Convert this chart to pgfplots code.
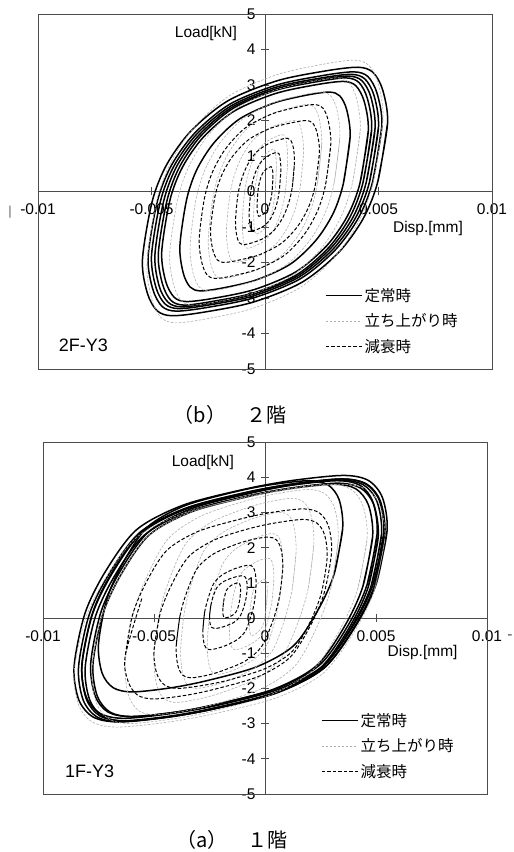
\documentclass[border=0pt]{standalone}
\usepackage{pgfplots}
\pgfplotsset{compat=1.18}
\usepackage{fontspec}
\setmainfont{Liberation Sans}
\newfontfamily\jp{Noto Sans CJK JP}
\pgfplotsset{
 hyst/.style={
  scale only axis,
  xmin=-10,xmax=10,ymin=-5,ymax=5,
  axis lines=middle,
  axis line style={-, black!70, line width=0.8pt},
  xtick={-10,-5,0,5,10}, xticklabels={-0.01,-0.005,0,0.005,0.01},
  ytick={-5,-4,-3,-2,-1,0,1,2,3,4,5}, yticklabels={-5,-4,-3,-2,-1,0,1,2,3,4,5},
  hide obscured x ticks=false, hide obscured y ticks=false,
  tick align=center, major tick length=8pt,
  tick style={black!70, line width=0.8pt},
  ticklabel style={font=\fontsize{15.5}{18}\selectfont},
  xticklabel style={anchor=north, yshift=-5pt},
  yticklabel style={anchor=east, xshift=-2pt},
  legend cell align=left,
  legend style={draw=none, fill=none, font=\jp\fontsize{15.5}{18}\selectfont, row sep=7pt, inner sep=0pt, anchor=north west},
  legend image code/.code={\draw[#1] (0pt,0pt) -- (36pt,0pt);},
  after end axis/.code={\draw[black!70, line width=0.8pt] (rel axis cs:0,0) rectangle (rel axis cs:1,1);},
 },
 steady/.style={black, line width=1.5pt, smooth},
 rise/.style={black!32, line width=0.6pt, dash pattern=on 2.5pt off 1.5pt, smooth},
 decay/.style={black, line width=1pt, dash pattern=on 3.5pt off 2pt, smooth},
}
\begin{document}
\begin{tikzpicture}
\path[use as bounding box] (0pt,0pt) rectangle (514pt,852pt);
% ---------------- top: 2F ----------------
\begin{axis}[hyst, width=454pt, height=355pt, at={(38pt,483pt)}, anchor=south west,
  legend style={at={(0.632,0.234)}}]
% steady-state loops
\addplot[steady] coordinates {(4.97,0.28) (5.40,1.93) (5.18,2.87) (4.75,3.36) (4.10,3.50) (2.70,3.40) (0.54,3.12) (-1.62,2.56) (-3.24,1.72) (-4.32,0.77) (-4.97,-0.28) (-5.40,-1.93) (-5.18,-2.87) (-4.75,-3.36) (-4.10,-3.50) (-2.70,-3.40) (-0.54,-3.12) (1.62,-2.56) (3.24,-1.72) (4.32,-0.77) (4.97,0.28) (5.40,1.93)};
\addlegendentry{定常時}
\addplot[steady, forget plot] coordinates {(4.74,0.27) (5.15,1.85) (4.94,2.76) (4.53,3.24) (3.91,3.37) (2.58,3.27) (0.52,3.00) (-1.55,2.46) (-3.09,1.65) (-4.12,0.74) (-4.74,-0.27) (-5.15,-1.85) (-4.94,-2.76) (-4.53,-3.24) (-3.91,-3.37) (-2.58,-3.27) (-0.52,-3.00) (1.55,-2.46) (3.09,-1.65) (4.12,-0.74) (4.74,0.27) (5.15,1.85)};
\addplot[steady, forget plot] coordinates {(4.60,0.26) (5.00,1.82) (4.80,2.71) (4.40,3.17) (3.80,3.30) (2.50,3.20) (0.50,2.94) (-1.50,2.41) (-3.00,1.62) (-4.00,0.73) (-4.60,-0.26) (-5.00,-1.82) (-4.80,-2.71) (-4.40,-3.17) (-3.80,-3.30) (-2.50,-3.20) (-0.50,-2.94) (1.50,-2.41) (3.00,-1.62) (4.00,-0.73) (4.60,0.26) (5.00,1.82)};
\addplot[steady, forget plot] coordinates {(4.46,0.26) (4.85,1.79) (4.66,2.67) (4.27,3.12) (3.69,3.25) (2.43,3.15) (0.49,2.89) (-1.46,2.37) (-2.91,1.59) (-3.88,0.72) (-4.46,-0.26) (-4.85,-1.79) (-4.66,-2.67) (-4.27,-3.12) (-3.69,-3.25) (-2.43,-3.15) (-0.49,-2.89) (1.46,-2.37) (2.91,-1.59) (3.88,-0.72) (4.46,0.26) (4.85,1.79)};
\addplot[steady, forget plot] coordinates {(4.32,0.26) (4.70,1.76) (4.51,2.62) (4.14,3.07) (3.57,3.20) (2.35,3.10) (0.47,2.85) (-1.41,2.34) (-2.82,1.57) (-3.76,0.70) (-4.32,-0.26) (-4.70,-1.76) (-4.51,-2.62) (-4.14,-3.07) (-3.57,-3.20) (-2.35,-3.10) (-0.47,-2.85) (1.41,-2.34) (2.82,-1.57) (3.76,-0.70) (4.32,0.26) (4.70,1.76)};
\addplot[steady, forget plot] coordinates {(4.19,0.25) (4.55,1.71) (4.37,2.54) (4.00,2.98) (3.46,3.10) (2.28,3.01) (0.46,2.76) (-1.37,2.26) (-2.73,1.52) (-3.64,0.68) (-4.19,-0.25) (-4.55,-1.71) (-4.37,-2.54) (-4.00,-2.98) (-3.46,-3.10) (-2.28,-3.01) (-0.46,-2.76) (1.37,-2.26) (2.73,-1.52) (3.64,-0.68) (4.19,0.25) (4.55,1.71)};
\addplot[steady, forget plot] coordinates {(3.45,0.22) (3.75,1.54) (3.60,2.30) (3.30,2.69) (2.85,2.80) (1.88,2.72) (0.38,2.49) (-1.13,2.04) (-2.25,1.37) (-3.00,0.62) (-3.45,-0.22) (-3.75,-1.54) (-3.60,-2.30) (-3.30,-2.69) (-2.85,-2.80) (-1.88,-2.72) (-0.38,-2.49) (1.13,-2.04) (2.25,-1.37) (3.00,-0.62) (3.45,0.22) (3.75,1.54)};
% rising loops
\addplot[rise] coordinates {(4.78,0.30) (5.20,2.04) (4.99,3.03) (4.58,3.55) (3.95,3.70) (2.60,3.59) (0.52,3.29) (-1.56,2.70) (-3.12,1.81) (-4.16,0.81) (-4.78,-0.30) (-5.20,-2.04) (-4.99,-3.03) (-4.58,-3.55) (-3.95,-3.70) (-2.60,-3.59) (-0.52,-3.29) (1.56,-2.70) (3.12,-1.81) (4.16,-0.81) (4.78,0.30) (5.20,2.04)};
\addlegendentry{立ち上がり時}
\addplot[rise, forget plot] coordinates {(3.86,0.26) (4.20,1.76) (4.03,2.62) (3.70,3.07) (3.19,3.20) (2.10,3.10) (0.42,2.85) (-1.26,2.34) (-2.52,1.57) (-3.36,0.70) (-3.86,-0.26) (-4.20,-1.76) (-4.03,-2.62) (-3.70,-3.07) (-3.19,-3.20) (-2.10,-3.10) (-0.42,-2.85) (1.26,-2.34) (2.52,-1.57) (3.36,-0.70) (3.86,0.26) (4.20,1.76)};
\addplot[rise, forget plot] coordinates {(3.04,0.22) (3.30,1.54) (3.17,2.30) (2.90,2.69) (2.51,2.80) (1.65,2.72) (0.33,2.49) (-0.99,2.04) (-1.98,1.37) (-2.64,0.62) (-3.04,-0.22) (-3.30,-1.54) (-3.17,-2.30) (-2.90,-2.69) (-2.51,-2.80) (-1.65,-2.72) (-0.33,-2.49) (0.99,-2.04) (1.98,-1.37) (2.64,-0.62) (3.04,0.22) (3.30,1.54)};
\addplot[rise, forget plot] coordinates {(2.30,0.20) (2.50,1.35) (2.40,2.01) (2.20,2.35) (1.90,2.45) (1.25,2.38) (0.25,2.18) (-0.75,1.79) (-1.50,1.20) (-2.00,0.54) (-2.30,-0.20) (-2.50,-1.35) (-2.40,-2.01) (-2.20,-2.35) (-1.90,-2.45) (-1.25,-2.38) (-0.25,-2.18) (0.75,-1.79) (1.50,-1.20) (2.00,-0.54) (2.30,0.20) (2.50,1.35)};
\addplot[rise, forget plot] coordinates {(1.56,0.16) (1.70,1.10) (1.63,1.64) (1.50,1.92) (1.29,2.00) (0.85,1.94) (0.17,1.78) (-0.51,1.46) (-1.02,0.98) (-1.36,0.44) (-1.56,-0.16) (-1.70,-1.10) (-1.63,-1.64) (-1.50,-1.92) (-1.29,-2.00) (-0.85,-1.94) (-0.17,-1.78) (0.51,-1.46) (1.02,-0.98) (1.36,-0.44) (1.56,0.16) (1.70,1.10)};
\addplot[rise, forget plot] coordinates {(0.92,0.13) (1.00,0.88) (0.96,1.31) (0.88,1.54) (0.76,1.60) (0.50,1.55) (0.10,1.42) (-0.30,1.17) (-0.60,0.78) (-0.80,0.35) (-0.92,-0.13) (-1.00,-0.88) (-0.96,-1.31) (-0.88,-1.54) (-0.76,-1.60) (-0.50,-1.55) (-0.10,-1.42) (0.30,-1.17) (0.60,-0.78) (0.80,-0.35) (0.92,0.13) (1.00,0.88)};
\addplot[rise, forget plot] coordinates {(0.46,0.10) (0.50,0.66) (0.48,0.98) (0.44,1.15) (0.38,1.20) (0.25,1.16) (0.05,1.07) (-0.15,0.88) (-0.30,0.59) (-0.40,0.26) (-0.46,-0.10) (-0.50,-0.66) (-0.48,-0.98) (-0.44,-1.15) (-0.38,-1.20) (-0.25,-1.16) (-0.05,-1.07) (0.15,-0.88) (0.30,-0.59) (0.40,-0.26) (0.46,0.10) (0.50,0.66)};
% decaying loops
\addplot[decay] coordinates {(2.67,0.20) (2.90,1.35) (2.78,2.01) (2.55,2.35) (2.20,2.45) (1.45,2.38) (0.29,2.18) (-0.87,1.79) (-1.74,1.20) (-2.32,0.54) (-2.67,-0.20) (-2.90,-1.35) (-2.78,-2.01) (-2.55,-2.35) (-2.20,-2.45) (-1.45,-2.38) (-0.29,-2.18) (0.87,-1.79) (1.74,-1.20) (2.32,-0.54) (2.67,0.20) (2.90,1.35)};
\addlegendentry{減衰時}
\addplot[decay, forget plot] coordinates {(2.21,0.16) (2.40,1.10) (2.30,1.64) (2.11,1.92) (1.82,2.00) (1.20,1.94) (0.24,1.78) (-0.72,1.46) (-1.44,0.98) (-1.92,0.44) (-2.21,-0.16) (-2.40,-1.10) (-2.30,-1.64) (-2.11,-1.92) (-1.82,-2.00) (-1.20,-1.94) (-0.24,-1.78) (0.72,-1.46) (1.44,-0.98) (1.92,-0.44) (2.21,0.16) (2.40,1.10)};
\addplot[decay, forget plot] coordinates {(1.20,0.12) (1.30,0.83) (1.25,1.23) (1.14,1.44) (0.99,1.50) (0.65,1.46) (0.13,1.34) (-0.39,1.10) (-0.78,0.74) (-1.04,0.33) (-1.20,-0.12) (-1.30,-0.83) (-1.25,-1.23) (-1.14,-1.44) (-0.99,-1.50) (-0.65,-1.46) (-0.13,-1.34) (0.39,-1.10) (0.78,-0.74) (1.04,-0.33) (1.20,0.12) (1.30,0.83)};
\addplot[decay, forget plot] coordinates {(0.64,0.09) (0.70,0.61) (0.67,0.90) (0.62,1.06) (0.53,1.10) (0.35,1.07) (0.07,0.98) (-0.21,0.80) (-0.42,0.54) (-0.56,0.24) (-0.64,-0.09) (-0.70,-0.61) (-0.67,-0.90) (-0.62,-1.06) (-0.53,-1.10) (-0.35,-1.07) (-0.07,-0.98) (0.21,-0.80) (0.42,-0.54) (0.56,-0.24) (0.64,0.09) (0.70,0.61)};
\addplot[decay, forget plot] coordinates {(0.32,0.06) (0.35,0.39) (0.34,0.57) (0.31,0.67) (0.27,0.70) (0.18,0.68) (0.04,0.62) (-0.11,0.51) (-0.21,0.34) (-0.28,0.15) (-0.32,-0.06) (-0.35,-0.39) (-0.34,-0.57) (-0.31,-0.67) (-0.27,-0.70) (-0.18,-0.68) (-0.04,-0.62) (0.11,-0.51) (0.21,-0.34) (0.28,-0.15) (0.32,0.06) (0.35,0.39)};
\node[font=\fontsize{15.5}{18}\selectfont] at (axis cs:-2.6,4.46) {Load[kN]};
\node[font=\fontsize{15.5}{18}\selectfont] at (axis cs:7.18,-1.03) {Disp.[mm]};
\node[font=\fontsize{18}{21}\selectfont] at (axis cs:-8.0,-4.32) {2F-Y3};
\end{axis}
\node[font=\jp\fontsize{20}{24}\selectfont] at (230pt,437pt) {（b）　２階};
\node[black!60, font=\fontsize{13}{15}\selectfont] at (10pt,640pt) {|};
% ---------------- bottom: 1F ----------------
\begin{axis}[hyst, width=444pt, height=352pt, at={(43pt,58pt)}, anchor=south west,
  legend style={at={(0.626,0.236)}}]
% steady-state loops
\addplot[steady] coordinates {(5.01,0.97) (5.50,2.48) (5.29,3.42) (4.65,3.91) (3.53,4.05) (1.27,3.91) (-0.84,3.67) (-3.67,3.21) (-5.78,2.51) (-7.19,1.32) (-8.11,0.13) (-8.60,-1.38) (-8.39,-2.32) (-7.75,-2.81) (-6.63,-2.95) (-4.37,-2.81) (-2.26,-2.57) (0.57,-2.11) (2.68,-1.41) (4.09,-0.22) (5.01,0.97) (5.50,2.48)};
\addlegendentry{定常時}
\addplot[steady, forget plot] coordinates {(4.92,0.91) (5.40,2.40) (5.19,3.33) (4.57,3.81) (3.47,3.95) (1.26,3.81) (-0.81,3.57) (-3.57,3.12) (-5.64,2.43) (-7.02,1.26) (-7.92,0.09) (-8.40,-1.40) (-8.19,-2.33) (-7.57,-2.81) (-6.47,-2.95) (-4.26,-2.81) (-2.19,-2.57) (0.57,-2.12) (2.64,-1.43) (4.02,-0.26) (4.92,0.91) (5.40,2.40)};
\addplot[steady, forget plot] coordinates {(4.87,0.96) (5.35,2.42) (5.15,3.34) (4.53,3.81) (3.45,3.95) (1.27,3.81) (-0.77,3.58) (-3.49,3.13) (-5.53,2.45) (-6.89,1.30) (-7.77,0.14) (-8.25,-1.32) (-8.05,-2.24) (-7.43,-2.71) (-6.35,-2.85) (-4.17,-2.71) (-2.13,-2.48) (0.59,-2.03) (2.63,-1.35) (3.99,-0.20) (4.87,0.96) (5.35,2.42)};
\addplot[steady, forget plot] coordinates {(4.78,0.91) (5.25,2.38) (5.05,3.30) (4.44,3.78) (3.36,3.92) (1.20,3.78) (-0.82,3.54) (-3.53,3.10) (-5.55,2.42) (-6.90,1.25) (-7.78,0.09) (-8.25,-1.38) (-8.05,-2.30) (-7.44,-2.78) (-6.36,-2.92) (-4.20,-2.78) (-2.18,-2.54) (0.53,-2.10) (2.55,-1.42) (3.90,-0.25) (4.78,0.91) (5.25,2.38)};
\addplot[steady, forget plot] coordinates {(4.64,0.86) (5.10,2.31) (4.90,3.22) (4.31,3.69) (3.25,3.83) (1.14,3.69) (-0.84,3.46) (-3.48,3.02) (-5.46,2.34) (-6.78,1.19) (-7.64,0.04) (-8.10,-1.41) (-7.90,-2.32) (-7.31,-2.79) (-6.25,-2.93) (-4.14,-2.79) (-2.16,-2.56) (0.48,-2.12) (2.46,-1.44) (3.78,-0.29) (4.64,0.86) (5.10,2.31)};
\addplot[steady, forget plot] coordinates {(4.60,0.95) (5.05,2.39) (4.86,3.30) (4.28,3.77) (3.24,3.90) (1.18,3.77) (-0.75,3.53) (-3.34,3.10) (-5.27,2.43) (-6.56,1.29) (-7.40,0.15) (-7.85,-1.29) (-7.66,-2.20) (-7.08,-2.67) (-6.04,-2.80) (-3.98,-2.67) (-2.05,-2.43) (0.54,-2.00) (2.47,-1.33) (3.76,-0.19) (4.60,0.95) (5.05,2.39)};
\addplot[steady, forget plot] coordinates {(4.41,0.90) (4.85,2.32) (4.66,3.21) (4.09,3.67) (3.09,3.80) (1.07,3.67) (-0.82,3.44) (-3.34,3.01) (-5.23,2.35) (-6.49,1.23) (-7.31,0.10) (-7.75,-1.32) (-7.56,-2.21) (-6.99,-2.67) (-5.99,-2.80) (-3.97,-2.67) (-2.08,-2.44) (0.44,-2.01) (2.33,-1.35) (3.59,-0.23) (4.41,0.90) (4.85,2.32)};
\addplot[steady, forget plot] coordinates {(3.12,1.26) (3.50,2.55) (3.34,3.36) (2.84,3.78) (1.96,3.90) (0.20,3.78) (-1.45,3.57) (-3.65,3.18) (-5.30,2.58) (-6.40,1.56) (-7.12,0.54) (-7.50,-0.75) (-7.34,-1.56) (-6.84,-1.98) (-5.96,-2.10) (-4.20,-1.98) (-2.55,-1.77) (-0.35,-1.38) (1.30,-0.78) (2.40,0.24) (3.12,1.26) (3.50,2.55)};
% rising loops
\addplot[rise] coordinates {(4.91,0.76) (5.40,2.25) (5.19,3.18) (4.56,3.66) (3.44,3.80) (1.20,3.66) (-0.90,3.42) (-3.70,2.97) (-5.80,2.28) (-7.20,1.11) (-8.11,-0.06) (-8.60,-1.55) (-8.39,-2.48) (-7.76,-2.96) (-6.64,-3.10) (-4.40,-2.96) (-2.30,-2.72) (0.50,-2.27) (2.60,-1.58) (4.00,-0.41) (4.91,0.76) (5.40,2.25)};
\addlegendentry{立ち上がり時}
\addplot[rise, forget plot] coordinates {(0.07,0.40) (0.10,0.74) (0.09,0.96) (0.05,1.07) (-0.01,1.10) (-0.14,1.07) (-0.26,1.01) (-0.42,0.91) (-0.54,0.75) (-0.62,0.48) (-0.67,0.20) (-0.70,-0.14) (-0.69,-0.36) (-0.65,-0.47) (-0.59,-0.50) (-0.46,-0.47) (-0.34,-0.41) (-0.18,-0.31) (-0.06,-0.15) (0.02,0.12) (0.07,0.40) (0.10,0.74)};
\addplot[rise, forget plot] coordinates {(0.33,0.56) (0.40,1.12) (0.37,1.47) (0.28,1.65) (0.12,1.70) (-0.20,1.65) (-0.50,1.56) (-0.90,1.39) (-1.20,1.13) (-1.40,0.69) (-1.53,0.24) (-1.60,-0.32) (-1.57,-0.67) (-1.48,-0.85) (-1.32,-0.90) (-1.00,-0.85) (-0.70,-0.76) (-0.30,-0.59) (0.00,-0.33) (0.20,0.11) (0.33,0.56) (0.40,1.12)};
\addplot[rise, forget plot] coordinates {(0.68,0.64) (0.80,1.50) (0.75,2.04) (0.60,2.32) (0.32,2.40) (-0.22,2.32) (-0.73,2.18) (-1.41,1.92) (-1.92,1.52) (-2.26,0.84) (-2.48,0.16) (-2.60,-0.70) (-2.55,-1.24) (-2.40,-1.52) (-2.12,-1.60) (-1.58,-1.52) (-1.07,-1.38) (-0.39,-1.12) (0.12,-0.72) (0.46,-0.04) (0.68,0.64) (0.80,1.50)};
\addplot[rise, forget plot] coordinates {(1.22,0.80) (1.40,1.88) (1.32,2.55) (1.09,2.90) (0.67,3.00) (-0.16,2.90) (-0.94,2.73) (-1.98,2.40) (-2.76,1.90) (-3.28,1.05) (-3.62,0.20) (-3.80,-0.88) (-3.72,-1.55) (-3.49,-1.90) (-3.07,-2.00) (-2.24,-1.90) (-1.46,-1.73) (-0.42,-1.40) (0.36,-0.90) (0.88,-0.05) (1.22,0.80) (1.40,1.88)};
\addplot[rise, forget plot] coordinates {(1.95,0.85) (2.20,2.10) (2.09,2.88) (1.77,3.28) (1.19,3.40) (0.04,3.28) (-1.04,3.08) (-2.48,2.70) (-3.56,2.12) (-4.28,1.14) (-4.75,0.15) (-5.00,-1.10) (-4.89,-1.88) (-4.57,-2.28) (-3.99,-2.40) (-2.84,-2.28) (-1.76,-2.08) (-0.32,-1.70) (0.76,-1.12) (1.48,-0.14) (1.95,0.85) (2.20,2.10)};
\addplot[rise, forget plot] coordinates {(2.96,0.83) (3.30,2.21) (3.16,3.07) (2.72,3.52) (1.96,3.65) (0.42,3.52) (-1.02,3.30) (-2.94,2.88) (-4.38,2.24) (-5.34,1.15) (-5.96,0.07) (-6.30,-1.31) (-6.16,-2.17) (-5.72,-2.62) (-4.96,-2.75) (-3.42,-2.62) (-1.98,-2.40) (-0.06,-1.98) (1.38,-1.34) (2.34,-0.25) (2.96,0.83) (3.30,2.21)};
\addplot[rise, forget plot] coordinates {(4.17,0.81) (4.60,2.27) (4.41,3.19) (3.86,3.66) (2.86,3.80) (0.88,3.66) (-0.98,3.43) (-3.46,2.98) (-5.32,2.30) (-6.56,1.15) (-7.37,-0.01) (-7.80,-1.47) (-7.61,-2.39) (-7.06,-2.86) (-6.06,-3.00) (-4.08,-2.86) (-2.22,-2.63) (0.26,-2.18) (2.12,-1.50) (3.36,-0.35) (4.17,0.81) (4.60,2.27)};
% decaying loops
\addplot[decay] coordinates {(-5.55,0.55) (-6.30,-1.09) (-6.16,-1.81) (-5.74,-2.19) (-5.00,-2.30) (-3.51,-2.19) (-2.12,-2.00) (-0.25,-1.65) (1.14,-1.11) (2.07,-0.19) (2.67,0.72) (3.00,1.89) (2.86,2.61) (2.44,2.99) (1.70,3.10) (0.21,2.99) (-1.18,2.80) (-3.05,2.45) (-4.44,1.91) (-5.37,0.99) (-5.97,0.08) (-6.30,-1.09)};
\addlegendentry{減衰時}
\addplot[decay, forget plot] coordinates {(-4.73,0.11) (-5.00,-0.92) (-4.88,-1.57) (-4.53,-1.90) (-3.91,-2.00) (-2.66,-1.90) (-1.49,-1.74) (0.07,-1.42) (1.24,-0.94) (2.02,-0.13) (2.53,0.69) (2.80,1.72) (2.68,2.37) (2.33,2.70) (1.71,2.80) (0.46,2.70) (-0.71,2.54) (-2.27,2.22) (-3.44,1.74) (-4.22,0.93) (-4.73,0.11) (-5.00,-0.92)};
\addplot[decay, forget plot] coordinates {(-3.83,0.06) (-4.00,-0.80) (-3.93,-1.34) (-3.71,-1.62) (-3.33,-1.70) (-2.56,-1.62) (-1.84,-1.48) (-0.88,-1.22) (-0.16,-0.82) (0.32,-0.14) (0.63,0.54) (0.80,1.40) (0.73,1.94) (0.51,2.22) (0.13,2.30) (-0.64,2.22) (-1.36,2.08) (-2.32,1.82) (-3.04,1.42) (-3.52,0.74) (-3.83,0.06) (-4.00,-0.80)};
\addplot[decay, forget plot] coordinates {(-2.72,0.16) (-2.80,-0.36) (-2.76,-0.68) (-2.66,-0.85) (-2.46,-0.90) (-2.08,-0.85) (-1.72,-0.77) (-1.24,-0.61) (-0.88,-0.37) (-0.64,0.04) (-0.48,0.44) (-0.40,0.96) (-0.44,1.28) (-0.54,1.45) (-0.74,1.50) (-1.12,1.45) (-1.48,1.37) (-1.96,1.21) (-2.32,0.97) (-2.56,0.56) (-2.72,0.16) (-2.80,-0.36)};
\addplot[decay, forget plot] coordinates {(-2.44,0.36) (-2.50,0.04) (-2.47,-0.17) (-2.40,-0.27) (-2.26,-0.30) (-1.99,-0.27) (-1.74,-0.22) (-1.39,-0.12) (-1.14,0.03) (-0.97,0.28) (-0.86,0.54) (-0.80,0.86) (-0.83,1.07) (-0.90,1.17) (-1.04,1.20) (-1.31,1.17) (-1.56,1.12) (-1.91,1.02) (-2.16,0.87) (-2.33,0.62) (-2.44,0.36) (-2.50,0.04)};
\addplot[decay, forget plot] coordinates {(-1.87,0.44) (-1.90,0.22) (-1.89,0.09) (-1.85,0.02) (-1.79,0.00) (-1.66,0.02) (-1.54,0.05) (-1.38,0.12) (-1.26,0.22) (-1.18,0.39) (-1.13,0.56) (-1.10,0.78) (-1.11,0.91) (-1.15,0.98) (-1.21,1.00) (-1.34,0.98) (-1.46,0.95) (-1.62,0.88) (-1.74,0.78) (-1.82,0.61) (-1.87,0.44) (-1.90,0.22)};
\node[font=\fontsize{15.5}{18}\selectfont] at (axis cs:-2.8,4.43) {Load[kN]};
\node[font=\fontsize{15.5}{18}\selectfont] at (axis cs:7.1,-0.97) {Disp.[mm]};
\node[font=\fontsize{18}{21}\selectfont] at (axis cs:-7.9,-4.35) {1F-Y3};
\end{axis}
\node[font=\jp\fontsize{20}{24}\selectfont] at (232pt,12pt) {（a）　１階};
\node[black!70, font=\fontsize{15.5}{18}\selectfont] at (510pt,215pt) {-};
\end{tikzpicture}
\end{document}
